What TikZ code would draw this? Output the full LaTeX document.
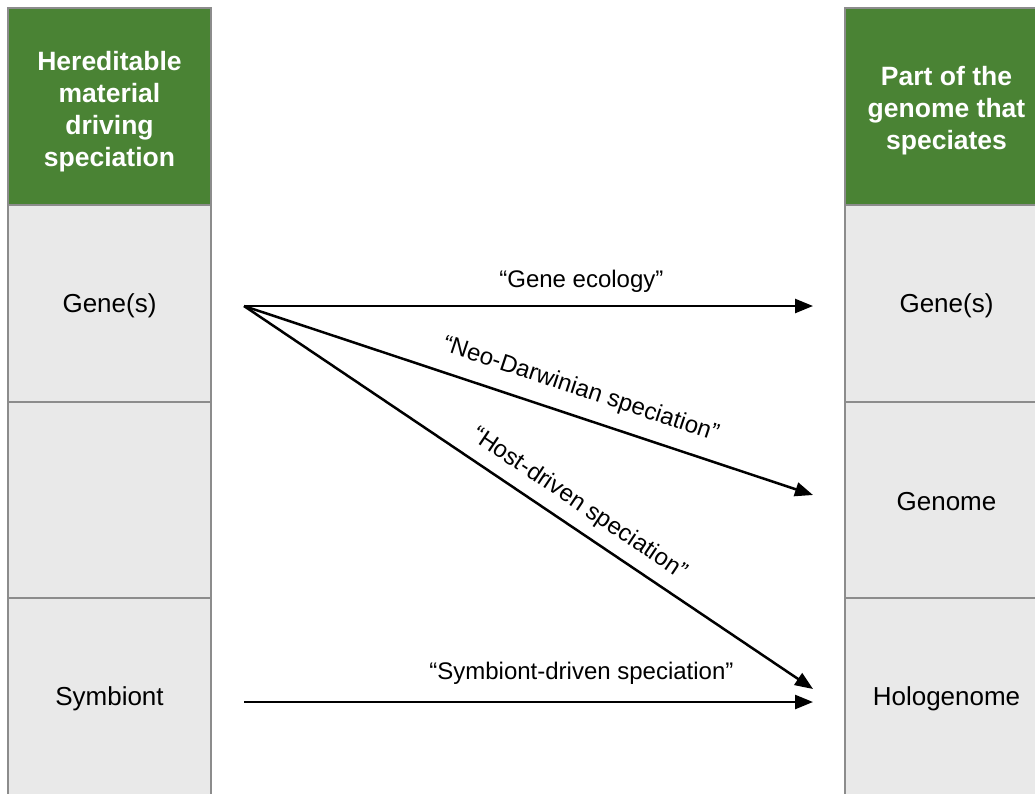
\documentclass[tikz,border=0pt]{standalone}
\usepackage{fontspec}
\setmainfont{Liberation Sans}
\usetikzlibrary{arrows.meta}
\definecolor{hdrgreen}{RGB}{74,131,52}
\definecolor{cellgray}{RGB}{233,233,233}
\definecolor{edgegray}{RGB}{140,140,140}
\tikzset{
  hdr/.style={draw=edgegray, line width=1.2pt, fill=hdrgreen, minimum width=203pt, minimum height=197pt, inner sep=0pt},
  hdrtext/.style={text=white, font=\fontsize{26.5}{32}\selectfont\bfseries, align=center, inner sep=0pt},
  cell/.style={draw=edgegray, line width=1.2pt, fill=cellgray, minimum width=203pt, inner sep=0pt},
  celltext/.style={font=\fontsize{26}{30}\selectfont, inner sep=0pt},
  conn/.style={line width=2.5pt, -{Triangle[length=18pt,width=14pt]}},
  lbl/.style={font=\fontsize{24}{28}\selectfont, inner sep=2pt}
}
\begin{document}
\begin{tikzpicture}[x=1pt,y=-1pt]
\useasboundingbox (0,0) rectangle (1035,793);
\clip (0,0) rectangle (1035,793);
% left column
\node[hdr] (lh) at (109.5,106.5) {};
\node[hdrtext] (lht) at (109.5,112) {Hereditable\\material\\driving\\speciation};
\node[cell, minimum height=197pt] (l1) at (109.5,303.5) {};
\node[celltext] (l1t) at (109.5,306) {Gene(s)};
\node[cell, minimum height=196pt] (l2) at (109.5,500) {};
\node[cell, minimum height=205pt] (l3) at (109.5,700.5) {};
\node[celltext] (l3t) at (109.5,699) {Symbiont};
% right column
\node[hdr] (rh) at (946.5,106.5) {};
\node[hdrtext] (rht) at (946.5,111) {Part of the\\genome that\\speciates};
\node[cell, minimum height=197pt] (r1) at (946.5,303.5) {};
\node[celltext] (r1t) at (946.5,306) {Gene(s)};
\node[cell, minimum height=196pt] (r2) at (946.5,500) {};
\node[celltext] (r2t) at (946.5,502) {Genome};
\node[cell, minimum height=205pt] (r3) at (946.5,700.5) {};
\node[celltext] (r3t) at (946.5,699) {Hologenome};
% connector end points
\coordinate (src) at (244,306);
\coordinate (e1) at (813,306);
\coordinate (e2) at (813,495);
\coordinate (e3) at (813,689);
\coordinate (s4) at (244,702);
\coordinate (e4) at (813,702);
\draw[conn] (src) -- node[lbl, pos=0.593, above=10pt] (t1) {“Gene ecology”} (e1);
\draw[conn] (src) -- node[lbl, pos=0.577, sloped, above=12pt] (t2) {“Neo-Darwinian speciation”} (e2);
\draw[conn] (src) -- node[lbl, pos=0.567, sloped, above=8.5pt] (t3) {“Host-driven speciation”} (e3);
\draw[conn] (s4) -- node[lbl, pos=0.593, above=14.5pt] (t4) {“Symbiont-driven speciation”} (e4);
\end{tikzpicture}
\end{document}
